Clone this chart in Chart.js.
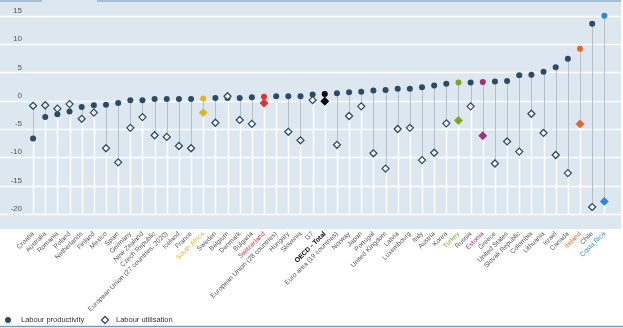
<!DOCTYPE html>
<html>
<head>
<meta charset="utf-8">
<script src="https://cdn.jsdelivr.net/npm/chart.js@4.4.1/dist/chart.umd.min.js"></script>
<style>
  html, body { margin: 0; padding: 0; background: #fff; }
  #wrap { width: 623px; height: 328px; position: relative; }
</style>
</head>
<body>
<div id="wrap"><canvas id="chart"></canvas></div>
<script>
// --- Data ---
const countries = [
    'Croatia', 'Australia', 'Romania', 'Poland', 'Netherlands', 'Finland', 'Mexico', 'Spain',
    'Germany', 'New Zealand', 'Czech Republic', 'European Union (27 countries, 2020)', 'Iceland',
    'France', 'South Africa', 'Sweden', 'Belgium', 'Denmark', 'Bulgaria', 'Switzerland',
    'European Union (28 countries)', 'Hungary', 'Slovenia', 'G7', 'OECD - Total',
    'Euro area (19 countries)', 'Norway', 'Japan', 'Portugal', 'United Kingdom', 'Latvia',
    'Luxembourg', 'Italy', 'Austria', 'Korea', 'Turkey', 'Russia', 'Estonia', 'Greece',
    'United States', 'Slovak Republic', 'Colombia', 'Lithuania', 'Israel', 'Canada', 'Ireland',
    'Chile', 'Costa Rica'
];
const productivity = [
    -6.7, -2.9, -2.4, -1.9, -1.1, -0.8, -0.7, -0.4, 0.1, 0.1, 0.3, 0.3, 0.3, 0.3, 0.4, 0.5,
    0.5, 0.5, 0.6, 0.7, 0.8, 0.8, 0.8, 1.1, 1.2, 1.3, 1.5, 1.6, 1.8, 1.9, 2.1, 2.1,
    2.4, 2.7, 3.0, 3.2, 3.2, 3.3, 3.4, 3.5, 4.5, 4.6, 5.1, 5.9, 7.4, 9.2, 13.6, 15.0
];
const utilisation = [
    -0.9, -0.8, -1.4, -0.6, -3.2, -2.1, -8.4, -10.9, -4.8, -2.9, -6.1, -6.4, -8.0, -8.4, -2.1, -3.9,
    0.8, -3.4, -4.1, -0.4, null, -5.5, -7.0, 0.1, -0.1, -7.8, -2.7, -1.0, -9.3, -12.0, -5.0, -4.8,
    -10.5, -9.2, -4.0, -3.5, -1.0, -6.2, -11.1, -7.2, -9.0, -2.3, -5.7, -9.6, -12.8, -4.1, -18.8, -17.8
];
const yTicks = [15, 10, 5, 0, -5, -10, -15, -20];

// countries picked out in their own colour
const highlight = {
    'South Africa': '#e2b423',
    'Switzerland': '#df2f38',
    'OECD - Total': '#000000',
    'Turkey': '#7aa531',
    'Estonia': '#a1307f',
    'Ireland': '#e5652a',
    'Costa Rica': '#2a8ad6'
};

const NAVY = '#2d4b69';
const BG = '#dce7f0';
const FONT = '"Liberation Sans", Arial, sans-serif';
const pointColour = countries.map(c => highlight[c] || NAVY);
const diamondFill = countries.map(c => highlight[c] || '#ffffff');

// --- Plugins ---
const panel = {
    id: 'panel',
    beforeDraw(chart) {
        const { ctx, scales: { y } } = chart;
        const right = chart.width - 2;
        ctx.save();
        ctx.fillStyle = BG;
        ctx.fillRect(0, 0, right, y.bottom + 1);
        ctx.strokeStyle = '#ffffff';
        ctx.lineWidth = 1.5;
        yTicks.forEach(v => {
            const py = Math.round(y.getPixelForValue(v)) + 0.5;
            ctx.beginPath();
            ctx.moveTo(0, py);
            ctx.lineTo(right, py);
            ctx.stroke();
        });
        // tab strip along the top
        ctx.strokeStyle = '#93b3cf';
        ctx.lineWidth = 1.5;
        ctx.beginPath();
        ctx.moveTo(0, 1); ctx.lineTo(42, 1);
        ctx.moveTo(97, 1); ctx.lineTo(right, 1);
        ctx.stroke();
        ctx.restore();
    }
};

const stems = {
    id: 'stems',
    beforeDatasetsDraw(chart) {
        const { ctx, scales: { x, y } } = chart;
        const base = y.getPixelForValue(-20);
        ctx.save();
        countries.forEach((c, i) => {
            const px = Math.round(x.getPixelForValue(i)) + 0.5;
            const p = y.getPixelForValue(productivity[i]);
            const u = utilisation[i] == null ? p : y.getPixelForValue(utilisation[i]);
            const low = Math.max(p, u);
            ctx.strokeStyle = '#ffffff';
            ctx.lineWidth = 1.5;
            ctx.beginPath();
            ctx.moveTo(px, low);
            ctx.lineTo(px, base);
            ctx.stroke();
            ctx.strokeStyle = '#b5c0ca';
            ctx.lineWidth = 1;
            ctx.beginPath();
            ctx.moveTo(px, Math.min(p, u));
            ctx.lineTo(px, low);
            ctx.stroke();
        });
        ctx.restore();
    }
};

const legendRow = {
    id: 'legendRow',
    afterDraw(chart) {
        const { ctx } = chart;
        const ds = chart.data.datasets;
        const cy = 320;
        ctx.save();
        ctx.font = '7.5px ' + FONT;
        ctx.textBaseline = 'middle';

        ctx.fillStyle = NAVY;
        ctx.beginPath();
        ctx.arc(8, cy, 3, 0, Math.PI * 2);
        ctx.fill();
        ctx.fillStyle = '#333';
        ctx.fillText(ds[0].label, 21, cy);

        ctx.fillStyle = '#fff';
        ctx.strokeStyle = NAVY;
        ctx.lineWidth = 1.3;
        ctx.beginPath();
        ctx.moveTo(105, cy - 3.5); ctx.lineTo(108.5, cy); ctx.lineTo(105, cy + 3.5); ctx.lineTo(101.5, cy);
        ctx.closePath();
        ctx.fill();
        ctx.stroke();
        ctx.fillStyle = '#333';
        ctx.fillText(ds[1].label, 116, cy);

        // bottom rule
        ctx.strokeStyle = '#7d9ba8';
        ctx.lineWidth = 1.5;
        ctx.beginPath();
        ctx.moveTo(0, 326.5);
        ctx.lineTo(chart.width, 326.5);
        ctx.stroke();
        ctx.restore();
    }
};

// --- Chart ---
new Chart(document.getElementById('chart'), {
    type: 'line',
    data: {
        labels: countries,
        datasets: [
            {
                label: 'Labour productivity',
                data: productivity,
                showLine: false,
                pointStyle: 'circle',
                pointRadius: 3,
                pointBackgroundColor: pointColour,
                pointBorderColor: pointColour,
                pointBorderWidth: 0,
                order: 2
            },
            {
                label: 'Labour utilisation',
                data: utilisation,
                showLine: false,
                pointStyle: 'rectRot',
                pointRadius: 3.5,
                pointBackgroundColor: diamondFill,
                pointBorderColor: pointColour,
                pointBorderWidth: 1.3,
                order: 1
            }
        ]
    },
    options: {
        responsive: true,
        maintainAspectRatio: false,
        animation: false,
        layout: { autoPadding: false, padding: { top: 0, right: 12.6, left: 0, bottom: 0 } },
        plugins: { legend: { display: false }, tooltip: { enabled: false } },
        scales: {
            x: {
                type: 'category',
                offset: true,
                grid: { display: false, drawTicks: false },
                border: { display: false },
                ticks: {
                    autoSkip: false,
                    minRotation: 45,
                    maxRotation: 45,
                    padding: 2,
                    color: ctx => highlight[countries[ctx.index]] || '#555',
                    font: ctx => ({
                        family: FONT,
                        size: 6.7,
                        weight: countries[ctx.index] === 'OECD - Total' ? 'bold' : 'normal'
                    })
                },
                afterFit: scale => { scale.height = 100; }
            },
            y: {
                min: -22.5,
                max: 17.8,
                grid: { display: false, drawTicks: false },
                border: { display: false },
                afterBuildTicks: scale => { scale.ticks = yTicks.map(v => ({ value: v })); },
                ticks: {
                    padding: 5,
                    labelOffset: -5,
                    color: '#555',
                    font: { family: FONT, size: 8 }
                },
                afterFit: scale => {
                    scale.width = 27;
                    scale.paddingTop = 0;
                    scale.paddingBottom = 0;
                }
            }
        }
    },
    plugins: [panel, stems, legendRow]
});
</script>
</body>
</html>
